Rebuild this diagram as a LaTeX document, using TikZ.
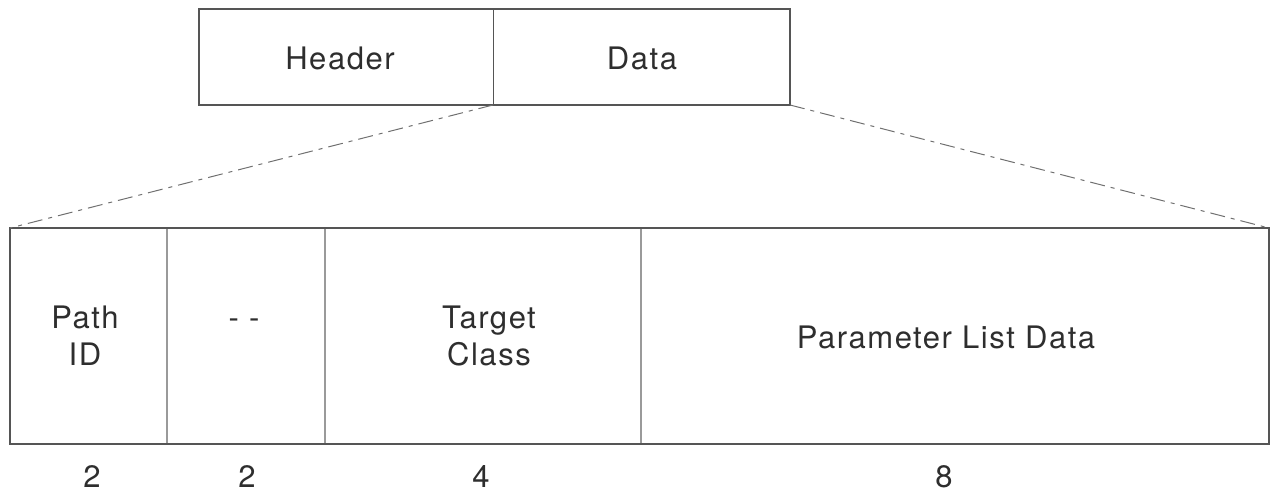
\documentclass[tikz,border=0pt]{standalone}
\usepackage{fontspec}
\setmainfont{TeX Gyre Heros}[LetterSpace=5]
\definecolor{edgec}{HTML}{555555}
\definecolor{divc}{HTML}{9A9A9A}
\definecolor{txtc}{HTML}{2E2E2E}
\definecolor{zoomc}{HTML}{707070}
\begin{document}
\begin{tikzpicture}[x=1pt,y=-1pt,
  edge/.style={draw=edgec, line width=2pt},
  cell/.style={draw=divc, line width=1.2pt, minimum height=216pt, outer sep=0pt, inner sep=0pt},
  tcell/.style={draw=edgec, line width=1pt, minimum height=96pt, outer sep=0pt, inner sep=0pt},
  lbl/.style={text=txtc, font=\fontsize{31}{37}\selectfont, inner sep=0pt, align=center},
  zoomline/.style={draw=zoomc, line width=1pt, dash pattern=on 15pt off 6pt on 4pt off 6pt}]
\useasboundingbox (0,0) rectangle (1272,493);
% top packet
\node[tcell, minimum width=294pt] (hdr) at (346,57) {};
\node[tcell, minimum width=297pt, anchor=west] (dat) at (hdr.east) {};
\draw[edge] (hdr.north west) rectangle (dat.south east);
\node[lbl] (hdrt) at (340,58) {Header};
\node[lbl] (datt) at (642,58) {Data};
% bottom fields
\node[cell, minimum width=157pt] (c1) at (88.5,336) {};
\node[cell, minimum width=158pt, anchor=west] (c2) at (c1.east) {};
\node[cell, minimum width=316pt, anchor=west] (c3) at (c2.east) {};
\node[cell, minimum width=628pt, anchor=west] (c4) at (c3.east) {};
\draw[edge] (c1.north west) rectangle (c4.south east);
\node[lbl] (pid) at (85,336) {Path\\ID};
\node[lbl, anchor=base] (dsh) at (244,328) {- -};
\node[lbl] (tcl) at (489,336) {Target\\Class};
\node[lbl, anchor=base] (pld) at (946,348) {Parameter List Data};
% sizes
\node[lbl, anchor=base] (n1) at (92,487) {2};
\node[lbl, anchor=base] (n2) at (247,487) {2};
\node[lbl, anchor=base] (n3) at (481,487) {4};
\node[lbl, anchor=base] (n4) at (944,487) {8};
% expansion lines
\draw[zoomline] (dat.south west) -- (c1.north west);
\draw[zoomline] (dat.south east) -- (c4.north east);
\end{tikzpicture}
\end{document}
